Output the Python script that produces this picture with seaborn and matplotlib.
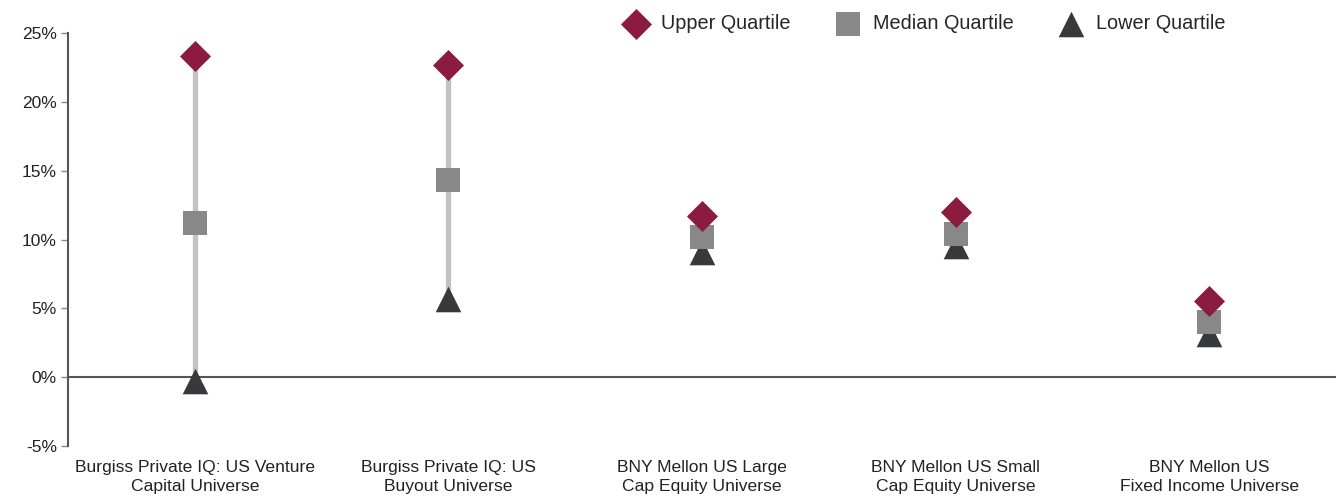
import matplotlib
matplotlib.use("Agg")
import matplotlib.pyplot as plt
import seaborn as sns
import pandas as pd
from matplotlib.ticker import FuncFormatter

categories = [
    "Burgiss Private IQ: US Venture\nCapital Universe",
    "Burgiss Private IQ: US\nBuyout Universe",
    "BNY Mellon US Large\nCap Equity Universe",
    "BNY Mellon US Small\nCap Equity Universe",
    "BNY Mellon US\nFixed Income Universe",
]
upper_quartile = [23.3, 22.7, 11.7, 12.0, 5.5]
median_quartile = [11.2, 14.3, 10.2, 10.4, 4.0]
lower_quartile = [-0.3, 5.7, 9.1, 9.5, 3.1]
y_ticks = [-5, 0, 5, 10, 15, 20, 25]

sns.set_theme(style="white")
plt.rcParams["font.family"] = ["Liberation Sans", "DejaVu Sans"]

df = pd.DataFrame({
    "category": categories,
    "upper": upper_quartile,
    "median": median_quartile,
    "lower": lower_quartile,
})

fig = plt.figure(figsize=(13.4, 4.99), dpi=100)
ax = fig.add_axes([68 / 1340, 1 - 446 / 499, (1336 - 68) / 1340, (446 - 33) / 499])

# range lines
xpos = list(range(len(categories)))
ax.vlines(xpos, df["lower"], df["upper"], color="#c2c2c2", linewidth=3.8, zorder=1)

sns.scatterplot(data=df, x="category", y="upper", marker="D", color="#8b1c40",
                s=250, linewidth=0, ax=ax, label="Upper Quartile", zorder=4)
sns.scatterplot(data=df, x="category", y="median", marker="s", color="#888888",
                s=300, linewidth=0, ax=ax, label="Median Quartile", zorder=3)
sns.scatterplot(data=df, x="category", y="lower", marker="^", color="#373a3d",
                s=340, linewidth=0, ax=ax, label="Lower Quartile", zorder=2)

ax.axhline(0, color="#555555", linewidth=1.5, zorder=0)

ax.set_xlim(-0.5, len(categories) - 0.5)
ax.set_ylim(-5, 25)
ax.set_yticks(y_ticks)
ax.yaxis.set_major_formatter(FuncFormatter(lambda v, p: f"{int(v)}%"))
ax.set_xlabel("")
ax.set_ylabel("")

for side in ["top", "right", "bottom"]:
    ax.spines[side].set_visible(False)
ax.spines["left"].set_color("#555555")
ax.spines["left"].set_linewidth(1.5)

ax.tick_params(axis="y", which="both", left=True, length=5, width=1, color="#888888",
               labelsize=12.5, labelcolor="#222222", pad=3)
ax.tick_params(axis="x", bottom=False, labelsize=12.6, labelcolor="#222222", pad=4)
for lbl in ax.get_xticklabels():
    lbl.set_linespacing(1.38)

leg = ax.legend(loc="upper left", bbox_to_anchor=(604 / 1340, 0.995), bbox_transform=fig.transFigure,
                ncol=3, frameon=False, fontsize=14.3, handletextpad=0.25, columnspacing=1.9,
                borderaxespad=0.2)

fig.savefig("out.png", dpi=100)
